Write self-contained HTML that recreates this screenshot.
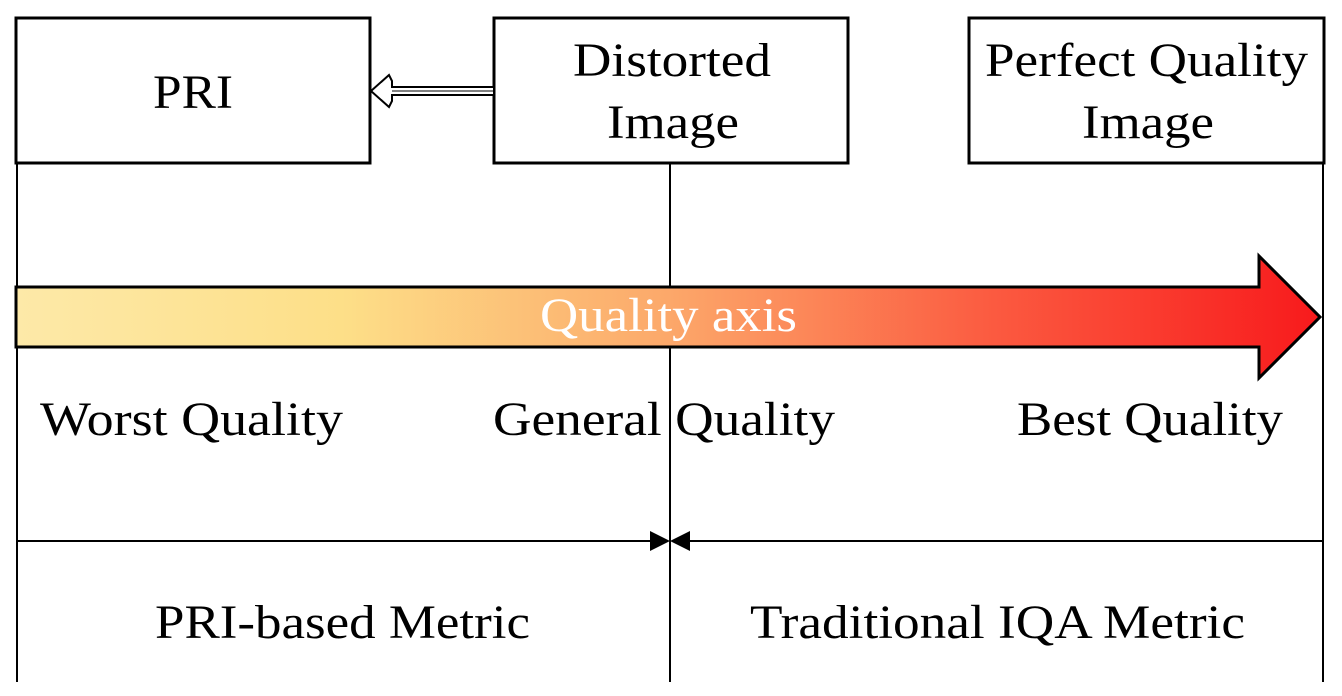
<!DOCTYPE html>
<html><head><meta charset="utf-8"><style>
html,body{margin:0;padding:0;background:#fff}
svg{display:block}
text{font-family:"Liberation Serif",serif;font-size:48px;fill:#000}
</style></head><body>
<svg width="1342" height="696" viewBox="0 0 1342 696">
<defs>
<linearGradient id="g" x1="16" x2="1320" y1="0" y2="0" gradientUnits="userSpaceOnUse">
<stop offset="0" stop-color="#fde9a8"/>
<stop offset="0.25" stop-color="#fddf88"/>
<stop offset="0.5" stop-color="#fca86a"/>
<stop offset="0.75" stop-color="#fb5a40"/>
<stop offset="1" stop-color="#f81a1c"/>
</linearGradient>
</defs>
<line x1="17" y1="162" x2="17" y2="682" stroke="#000" stroke-width="2"/>
<line x1="670" y1="162" x2="670" y2="682" stroke="#000" stroke-width="2"/>
<line x1="1323" y1="162" x2="1323" y2="682" stroke="#000" stroke-width="2"/>
<rect x="16" y="18" width="354" height="145" fill="#fff" stroke="#000" stroke-width="3"/>
<rect x="494" y="18" width="354" height="145" fill="#fff" stroke="#000" stroke-width="3"/>
<rect x="969" y="18" width="355" height="145" fill="#fff" stroke="#000" stroke-width="3"/>
<text x="153" y="108" textLength="80" lengthAdjust="spacingAndGlyphs">PRI</text>
<text x="573" y="76" textLength="198" lengthAdjust="spacingAndGlyphs">Distorted</text>
<text x="607" y="138" textLength="132" lengthAdjust="spacingAndGlyphs">Image</text>
<text x="985" y="76" textLength="323" lengthAdjust="spacingAndGlyphs">Perfect Quality</text>
<text x="1082" y="138" textLength="132" lengthAdjust="spacingAndGlyphs">Image</text>
<path d="M493 87 L392 87 L392 81 L389 75 L371 91 L389 107 L392 101 L392 95 L493 95" fill="#fff" stroke="#000" stroke-width="2"/>
<line x1="392" y1="91" x2="493" y2="91" stroke="#000" stroke-width="1"/>
<path d="M16 287 L1259 287 L1259 256 L1320 317 L1259 378 L1259 347 L16 347 Z" fill="url(#g)" stroke="#000" stroke-width="3"/>
<text x="540" y="331" textLength="257" lengthAdjust="spacingAndGlyphs" style="fill:#fff">Quality axis</text>
<text x="40" y="435" textLength="303" lengthAdjust="spacingAndGlyphs">Worst Quality</text>
<text x="493" y="435" textLength="342" lengthAdjust="spacingAndGlyphs">General Quality</text>
<text x="1017" y="435" textLength="266" lengthAdjust="spacingAndGlyphs">Best Quality</text>
<line x1="16" y1="541" x2="650" y2="541" stroke="#000" stroke-width="2"/>
<line x1="690" y1="541" x2="1323" y2="541" stroke="#000" stroke-width="2"/>
<path d="M650 531 L670 541 L650 551 Z" fill="#000"/>
<path d="M690 531 L670 541 L690 551 Z" fill="#000"/>
<text x="155" y="638" textLength="375" lengthAdjust="spacingAndGlyphs">PRI-based Metric</text>
<text x="750" y="638" textLength="495" lengthAdjust="spacingAndGlyphs">Traditional IQA Metric</text>
</svg>
</body></html>
